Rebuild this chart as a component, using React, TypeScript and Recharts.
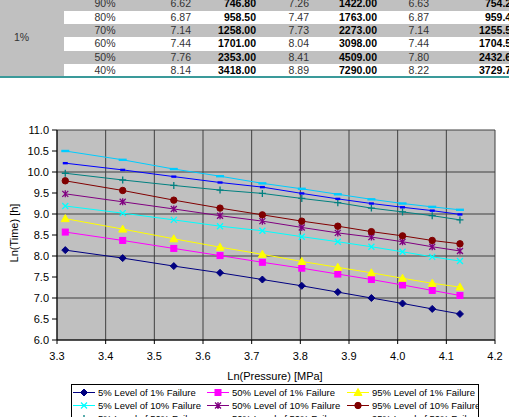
import { LineChart, Line, XAxis, YAxis, CartesianGrid } from "recharts";

// ln of applied pressure, MPa (40% ... 90% load levels)
const lnPressure = [3.317, 3.435, 3.54, 3.635, 3.722, 3.803, 3.877, 3.946, 4.01, 4.071, 4.128];

const level5of1 = [8.14, 7.95, 7.76, 7.6, 7.44, 7.29, 7.14, 7.0, 6.87, 6.74, 6.62];
const level50of1 = [8.57, 8.37, 8.18, 8.01, 7.85, 7.71, 7.57, 7.44, 7.31, 7.18, 7.06];
const level95of1 = [8.89, 8.64, 8.41, 8.21, 8.04, 7.87, 7.73, 7.6, 7.47, 7.35, 7.26];
const level5of10 = [9.19, 9.02, 8.86, 8.71, 8.6, 8.46, 8.34, 8.22, 8.1, 7.98, 7.88];
const level50of10 = [9.48, 9.29, 9.12, 8.96, 8.83, 8.68, 8.55, 8.45, 8.34, 8.22, 8.12];
const level95of10 = [9.79, 9.56, 9.33, 9.14, 8.98, 8.83, 8.71, 8.58, 8.48, 8.37, 8.29];
const level5of50 = [9.97, 9.81, 9.68, 9.57, 9.49, 9.37, 9.27, 9.14, 9.05, 8.96, 8.86];
const level50of50 = [10.21, 10.05, 9.89, 9.75, 9.64, 9.49, 9.36, 9.25, 9.16, 9.08, 8.99];
const level95of50 = [10.5, 10.29, 10.07, 9.9, 9.73, 9.6, 9.47, 9.35, 9.25, 9.17, 9.1];

const xTicks = [3.3, 3.4, 3.5, 3.6, 3.7, 3.8, 3.9, 4.0, 4.1, 4.2];
const yTicks = [6.0, 6.5, 7.0, 7.5, 8.0, 8.5, 9.0, 9.5, 10.0, 10.5, 11.0];

// table rows (top of the sheet, partly cut off)
const failureLabel = "1%";
const loadLevels = ["90%", "80%", "70%", "60%", "50%", "40%"];
const lnTime5 = [6.62, 6.87, 7.14, 7.44, 7.76, 8.14];
const time5 = [746.8, 958.5, 1258.0, 1701.0, 2353.0, 3418.0];
const lnTime95 = [7.26, 7.47, 7.73, 8.04, 8.41, 8.89];
const time95 = [1422.0, 1763.0, 2273.0, 3098.0, 4509.0, 7290.0];
const lnTimeFit = [6.63, 6.87, 7.14, 7.44, 7.8, 8.22];
const timeFit = [754.22, 959.44, 1255.53, 1704.58, 2432.63, 3729.73];

type Shape = "diamond" | "square" | "triangle" | "x" | "star" | "circle" | "plus" | "shortDash" | "longDash";

const series: { key: string; name: string; values: number[]; color: string; shape: Shape }[] = [
  { key: "s1", name: "5% Level of 1% Failure", values: level5of1, color: "#000080", shape: "diamond" },
  { key: "s2", name: "50% Level of 1% Failure", values: level50of1, color: "#FF00FF", shape: "square" },
  { key: "s3", name: "95% Level of 1% Failure", values: level95of1, color: "#FFFF00", shape: "triangle" },
  { key: "s4", name: "5% Level of 10% Failure", values: level5of10, color: "#00FFFF", shape: "x" },
  { key: "s5", name: "50% Level of 10% Failure", values: level50of10, color: "#800080", shape: "star" },
  { key: "s6", name: "95% Level of 10% Failure", values: level95of10, color: "#800000", shape: "circle" },
  { key: "s7", name: "5% Level of 50% Failure", values: level5of50, color: "#008080", shape: "plus" },
  { key: "s8", name: "50% Level of 50% Failure", values: level50of50, color: "#0000FF", shape: "shortDash" },
  { key: "s9", name: "95% Level of 50% Failure", values: level95of50, color: "#00CCFF", shape: "longDash" },
];

const data = lnPressure.map((x, i) => {
  const row: Record<string, number> = { x };
  series.forEach((s) => (row[s.key] = s.values[i]));
  return row;
});

function Marker({ shape, cx, cy, color }: { shape: Shape; cx: number; cy: number; color: string }) {
  switch (shape) {
    case "diamond":
      return <polygon points={`${cx},${cy - 3.5} ${cx + 3.5},${cy} ${cx},${cy + 3.5} ${cx - 3.5},${cy}`} fill={color} stroke={color} />;
    case "square":
      return <rect x={cx - 3} y={cy - 3} width={6} height={6} fill={color} stroke={color} />;
    case "triangle":
      return <polygon points={`${cx},${cy - 4} ${cx + 4},${cy + 3} ${cx - 4},${cy + 3}`} fill={color} stroke={color} />;
    case "x":
      return <path d={`M${cx - 3},${cy - 3}L${cx + 3},${cy + 3}M${cx - 3},${cy + 3}L${cx + 3},${cy - 3}`} stroke={color} strokeWidth={1.3} />;
    case "star":
      return (
        <path
          d={`M${cx - 3},${cy - 3}L${cx + 3},${cy + 3}M${cx - 3},${cy + 3}L${cx + 3},${cy - 3}M${cx},${cy - 3.5}L${cx},${cy + 3.5}`}
          stroke={color}
          strokeWidth={1.3}
        />
      );
    case "circle":
      return <circle cx={cx} cy={cy} r={3.2} fill={color} stroke={color} />;
    case "plus":
      return <path d={`M${cx - 3.5},${cy}L${cx + 3.5},${cy}M${cx},${cy - 3.5}L${cx},${cy + 3.5}`} stroke={color} strokeWidth={1.3} />;
    case "shortDash":
      return <rect x={cx - 2.5} y={cy - 1.2} width={5} height={2.4} fill={color} />;
    case "longDash":
      return <rect x={cx - 4} y={cy - 1.2} width={8} height={2.4} fill={color} />;
  }
}

const font = '"Liberation Sans", Arial, sans-serif';
const gray = "#C0C0C0";

function DataTable() {
  const cell = (text: string, bold: boolean, width: number, align: "right" | "center") => (
    <td
      style={{
        width,
        padding: align === "right" ? "0 4px 0 0" : 0,
        textAlign: align,
        fontWeight: bold ? "bold" : "normal",
        color: bold ? "#000" : "#333",
        boxSizing: "border-box",
        whiteSpace: "nowrap",
        overflow: "visible",
      }}
    >
      {text}
    </td>
  );
  return (
    <div style={{ position: "absolute", left: 0, top: 0, width: 509, height: 80, overflow: "hidden" }}>
      <table
        style={{
          position: "absolute",
          left: 0,
          top: -2.7,
          borderCollapse: "collapse",
          tableLayout: "fixed",
          fontFamily: font,
          fontSize: 10.5,
          width: 521,
        }}
      >
        <tbody>
          {loadLevels.map((lvl, i) => (
            <tr key={lvl} style={{ height: 13.33, lineHeight: "13px", background: i % 2 === 0 ? gray : "#fff" }}>
              {i === 0 && (
                <td rowSpan={loadLevels.length} style={{ width: 64, background: gray, color: "#333", paddingLeft: 14, boxSizing: "border-box" }}>
                  {failureLabel}
                </td>
              )}
              {cell(lvl, false, 82, "center")}
              {cell(lnTime5[i].toFixed(2), false, 49, "right")}
              {cell(time5[i].toFixed(2), true, 65, "right")}
              {cell(lnTime95[i].toFixed(2), false, 53, "right")}
              {cell(time95[i].toFixed(2), true, 68, "right")}
              {cell(lnTimeFit[i].toFixed(2), false, 52, "right")}
              {cell(timeFit[i].toFixed(2), true, 88, "right")}
            </tr>
          ))}
        </tbody>
      </table>
      <div style={{ position: "absolute", left: 0, top: 76, width: 509, height: 2, background: "#3A9A9A" }} />
    </div>
  );
}

function ChartLegend() {
  const colX = [1, 135, 275];
  return (
    <div
      style={{
        position: "absolute",
        left: 71,
        top: 384,
        width: 406,
        height: 40,
        border: "1px solid #000",
        background: "#fff",
        overflow: "hidden",
        fontFamily: font,
        fontSize: 9.5,
        color: "#000",
      }}
    >
      {series.map((s, i) => (
        <div
          key={s.key}
          style={{
            position: "absolute",
            left: colX[i % 3],
            top: 1 + Math.floor(i / 3) * 13,
            height: 13,
            display: "flex",
            alignItems: "center",
            whiteSpace: "nowrap",
          }}
        >
          <svg width={24} height={13} style={{ marginRight: 1 }}>
            <line x1={0} y1={6.5} x2={22} y2={6.5} stroke={s.color} strokeWidth={1} />
            <Marker shape={s.shape} cx={11} cy={6.5} color={s.color} />
          </svg>
          <span>{s.name}</span>
        </div>
      ))}
    </div>
  );
}

export default function App() {
  return (
    <div style={{ position: "absolute", left: 0, top: 0, width: 509, height: 417, overflow: "hidden", background: "#fff" }}>
      <div style={{ position: "absolute", left: 0, top: 0 }}>
        <LineChart width={509} height={417} data={data} margin={{ top: 130, right: 14, bottom: 47, left: 0 }}>
          <CartesianGrid fill={gray} fillOpacity={1} stroke="#404040" strokeWidth={1} />
          <XAxis
            dataKey="x"
            type="number"
            domain={[3.3, 4.2]}
            ticks={xTicks}
            tickFormatter={(v: number) => v.toFixed(1)}
            height={30}
            stroke="#000"
            tickSize={4}
            tickMargin={8}
            tick={{ fontSize: 11, fill: "#000", fontFamily: font }}
            allowDataOverflow
          />
          <YAxis
            type="number"
            domain={[6, 11]}
            ticks={yTicks}
            tickFormatter={(v: number) => v.toFixed(1)}
            width={57}
            stroke="#000"
            tickSize={5}
            tickMargin={3}
            tick={{ fontSize: 11, fill: "#000", fontFamily: font }}
            allowDataOverflow
          />
          {series.map((s) => (
            <Line
              key={s.key}
              dataKey={s.key}
              name={s.name}
              type="linear"
              stroke={s.color}
              strokeWidth={1}
              isAnimationActive={false}
              dot={(p: any) => (
                <g key={`${s.key}-${p.index}`}>
                  <Marker shape={s.shape} cx={p.cx} cy={p.cy} color={s.color} />
                </g>
              )}
              activeDot={false}
            />
          ))}
        </LineChart>
      </div>
      <DataTable />
      <div
        style={{
          position: "absolute",
          left: -36,
          top: 226,
          width: 100,
          height: 14,
          lineHeight: "14px",
          textAlign: "center",
          transform: "rotate(-90deg)",
          fontFamily: font,
          fontSize: 11,
          color: "#000",
        }}
      >
        Ln(Time) [h]
      </div>
      <div
        style={{
          position: "absolute",
          left: 175,
          top: 369,
          width: 200,
          height: 14,
          lineHeight: "14px",
          textAlign: "center",
          fontFamily: font,
          fontSize: 11,
          color: "#000",
        }}
      >
        Ln(Pressure) [MPa]
      </div>
      <ChartLegend />
    </div>
  );
}
